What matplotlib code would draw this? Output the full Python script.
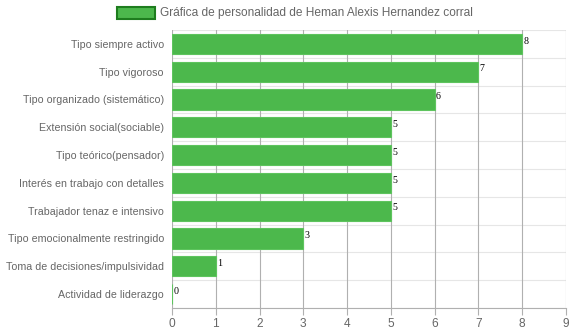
import matplotlib.pyplot as plt
import numpy as np

# ======= DATOS ======= #

categorias = [
    'Tipo siempre activo',
    'Tipo vigoroso',
    'Tipo organizado (sistemático)',
    'Extensión social(sociable)',
    'Tipo teórico(pensador)',
    'Interés en trabajo con detalles',
    'Trabajador tenaz e intensivo',
    'Tipo emocionalmente restringido',
    'Toma de decisiones/impulsividad',
    'Actividad de liderazgo',
]
valores = [8, 7, 6, 5, 5, 5, 5, 3, 1, 0]
ticks_x = [0, 1, 2, 3, 4, 5, 6, 7, 8, 9]
titulo_leyenda = 'Gráfica de personalidad de Heman Alexis Hernandez corral'

# ======= GRAFICO ======= #

plt.rcParams['font.family'] = ['Liberation Sans', 'DejaVu Sans']

fig = plt.figure(figsize=(5.72, 3.33), dpi=100)
ax = fig.add_axes([172/572, 1 - 308/333, (566 - 172)/572, (308 - 30)/333])

n = len(categorias)
y = np.arange(n)

ax.barh(y, valores, height=0.72, color='#4cb84c', edgecolor='#5ec45e', linewidth=0.8, zorder=3)

for yi, v in zip(y, valores):
    ax.text(v + 0.03, yi - 0.1, str(v), va='center', ha='left',
            fontsize=7.2, family='Liberation Serif', color='black', zorder=4)

ax.set_ylim(n - 0.5, -0.5)
ax.set_xlim(0, 9)
ax.set_xticks(ticks_x)
ax.set_yticks(y)
ax.set_yticklabels(categorias)

# lineas horizontales entre categorias
for b in np.arange(-0.5, n, 1.0):
    ax.axhline(b, color='#e6e6e6', lw=0.8, zorder=1)
for t in ticks_x:
    ax.axvline(t, color='#b0b0b0', lw=0.8, zorder=2)

ax.tick_params(axis='both', colors='#666666', length=0)
ax.tick_params(axis='x', labelsize=8.6, length=5, color='#b0b0b0', pad=2)
ax.tick_params(axis='y', labelsize=7.7, pad=5.8)

for s in ['top', 'right', 'left']:
    ax.spines[s].set_visible(False)
ax.spines['bottom'].set_color('#b0b0b0')
ax.spines['bottom'].set_linewidth(0.8)

# leyenda
fig.patches.append(plt.Rectangle((117/572, 1 - 19/333), 38/572, 12/333,
                                 transform=fig.transFigure, facecolor='#4cb84c',
                                 edgecolor='#1e7d1e', linewidth=1.5))
fig.text(160/572, 1 - 13/333, titulo_leyenda, va='center', ha='left',
         fontsize=8.6, color='#666666')

fig.savefig('out.png', dpi=100)
